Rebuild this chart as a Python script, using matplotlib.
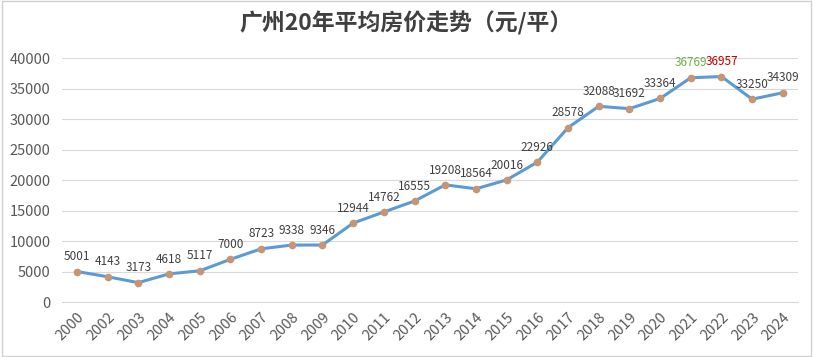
import matplotlib
matplotlib.use("Agg")
import matplotlib.pyplot as plt

plt.rcParams['font.family'] = ['Noto Sans CJK SC', 'DejaVu Sans']

years = ["2000", "2002", "2003", "2004", "2005", "2006", "2007", "2008", "2009",
         "2010", "2011", "2012", "2013", "2014", "2015", "2016", "2017", "2018",
         "2019", "2020", "2021", "2022", "2023", "2024"]
prices = [5001, 4143, 3173, 4618, 5117, 7000, 8723, 9338, 9346, 12944, 14762,
          16555, 19208, 18564, 20016, 22926, 28578, 32088, 31692, 33364, 36769,
          36957, 33250, 34309]
yticks = [0, 5000, 10000, 15000, 20000, 25000, 30000, 35000, 40000]
title = "广州20年平均房价走势（元/平）"

fig = plt.figure(figsize=(8.13, 3.57), dpi=100)
ax = fig.add_axes([0.0758, 0.154, 0.906, 0.6835])

x = list(range(len(years)))
ax.plot(x, prices, color="#5B9BD5", lw=2.2, zorder=2)
ax.plot(x, prices, ls="none", marker="o", ms=4.5, color="#C69574", zorder=3)

label_colors = {20: "#70AD47", 21: "#C00000"}
for i, v in enumerate(prices):
    ax.annotate(f"{v}", (i, v), xytext=(0, 6), textcoords="offset points",
                ha="center", va="bottom", fontsize=8.5,
                color=label_colors.get(i, "#404040"))

ax.set_xlim(-0.5, len(years) - 0.5)
ax.set_ylim(0, 40000)
ax.set_yticks(yticks)
ax.set_yticklabels([str(t) for t in yticks])
ax.set_xticks(x)
ax.set_xticklabels(years, rotation=45, ha="right", rotation_mode="anchor")
ax.tick_params(axis="both", length=0, labelsize=10.5, colors="#595959")
ax.tick_params(axis="x", pad=6)
ax.tick_params(axis="y", pad=8)
ax.grid(axis="y", color="#D9D9D9", lw=0.8)
ax.set_axisbelow(True)
for s in ["top", "right", "left"]:
    ax.spines[s].set_visible(False)
ax.spines["bottom"].set_color("#D9D9D9")

fig.text(0.5, 0.935, title, ha="center", va="center", fontsize=16.5,
         fontweight="bold", color="#404040")

border = plt.Rectangle((0.002, 0.003), 0.996, 0.994, transform=fig.transFigure,
                       fill=False, ec="#D0D0D0", lw=1)
fig.add_artist(border)

fig.savefig("out.png", dpi=100)
